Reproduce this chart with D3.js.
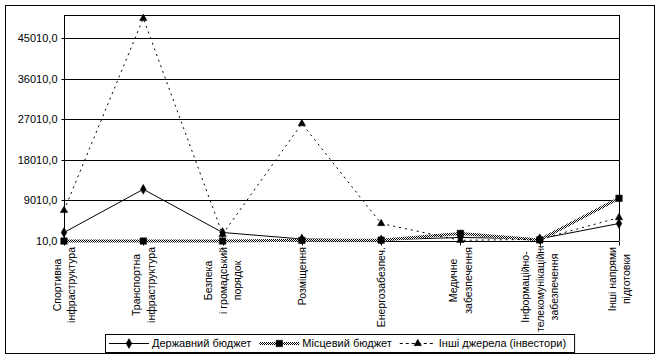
<!DOCTYPE html>
<html><head><meta charset="utf-8">
<script src="https://cdn.jsdelivr.net/npm/d3@7"></script>
<style>
html,body{margin:0;padding:0;background:#fff;}
svg{display:block;font-family:"Liberation Sans",Arial,sans-serif;}
</style></head>
<body>
<svg id="c" width="659" height="359"></svg>
<script>
const categories = ["Спортивна інфраструктура","Транспортна інфраструктура","Безпека і громадський порядок","Розміщення","Енергозабезпеч.","Медичне забезпечення","Інформаційно-телекомунікаційне забезпечення","Інші напрями підготовки"];
const labelLines = [["Спортивна","інфраструктура"],["Транспортна","інфраструктура"],["Безпека","і громадський","порядок"],["Розміщення"],["Енергозабезпеч."],["Медичне","забезпечення"],["Інформаційно-","телекомунікаційне","забезпечення"],["Інші напрями","підготовки"]];
const seriesNames = ["Державний бюджет","Місцевий бюджет","Інші джерела (інвестори)"];
const stateBudget = [1900, 11500, 1900, 450, 250, 800, 500, 3900];
const localBudget = [0, 0, 0, 150, 200, 1700, 250, 9500];
const otherSources = [6800, 49500, 1500, 26100, 3900, 150, 400, 5200];
const yTicks = [10, 9010, 18010, 27010, 36010, 45010];
const yMin = 10, yMax = 50230;

const svg = d3.select("#c");
const L = 64, R = 619, T = 15, B = 241;

const defs = svg.append("defs");
const pat = defs.append("pattern").attr("id","hatch").attr("patternUnits","userSpaceOnUse").attr("width",2).attr("height",2);
pat.append("rect").attr("width",2).attr("height",2).attr("fill","#fff");
pat.append("rect").attr("x",0).attr("y",0).attr("width",1).attr("height",1).attr("fill","#000");
pat.append("rect").attr("x",1).attr("y",1).attr("width",1).attr("height",1).attr("fill","#000");
defs.append("clipPath").attr("id","lblclip").append("rect").attr("x",0).attr("y",246).attr("width",659).attr("height",90);

svg.append("rect").attr("x",5.5).attr("y",5.5).attr("width",649).attr("height",348).attr("fill","none").attr("stroke","#000");

const x = d3.scalePoint().domain(categories).range([L, R]).padding(0);
const y = d3.scaleLinear().domain([yMin, yMax]).range([B, T]);

svg.append("g").selectAll("line").data(yTicks.slice(1)).join("line")
  .attr("x1",L).attr("x2",R).attr("y1",d=>Math.round(y(d))+0.5).attr("y2",d=>Math.round(y(d))+0.5)
  .attr("stroke","#000");
svg.append("line").attr("x1",L).attr("x2",R+0.5).attr("y1",T+0.5).attr("y2",T+0.5).attr("stroke","#000");
svg.append("line").attr("x1",R+0.5).attr("x2",R+0.5).attr("y1",T).attr("y2",B).attr("stroke","#000");

const yAxis = d3.axisLeft(y).tickValues(yTicks).tickSize(3).tickPadding(4)
  .tickFormat(d => d3.format(".1f")(d).replace(".", ","));
const ya = svg.append("g").attr("transform",`translate(${L+0.5},0)`).call(yAxis);
ya.select(".domain").attr("stroke","#000").attr("d",`M0,${T}V${B}`);
ya.selectAll(".tick").attr("transform",d=>`translate(0,${Math.round(y(d))+0.5})`);
ya.selectAll("text").attr("font-size",11).attr("fill","#000").attr("font-family","Liberation Sans, Arial, sans-serif").attr("dy","0.35em");

const xAxis = d3.axisBottom(x).tickSize(4).tickFormat("");
const xa = svg.append("g").attr("transform",`translate(0,${Math.round(y(yMin))+0.5})`).call(xAxis);
xa.select(".domain").attr("d",`M${L},0H${R}`).attr("stroke","#000");
xa.selectAll(".tick").attr("transform",d=>`translate(${Math.round(x(d))+0.5},0)`);

const lblG = svg.append("g").attr("clip-path","url(#lblclip)");
categories.forEach((c,i)=>{
  const lines = labelLines[i];
  const cx = x(c);
  const g = lblG.append("g");
  const texts = lines.map((ln,j)=> g.append("text").text(ln).attr("font-size",10.5).attr("fill","#000").attr("text-anchor","middle"));
  const w = d3.max(texts, t=>t.node().getComputedTextLength());
  let bottom = Math.min(247 + w, 332);
  const center = bottom - w/2;
  const n = lines.length, lh = 14.5;
  texts.forEach((t,j)=>{
    const lx = cx + (j - (n-1)/2)*lh + 4;
    t.attr("transform",`translate(${lx},${center}) rotate(-90)`);
  });
});

const series = [
  {name:seriesNames[0], values:stateBudget, stroke:"#000", width:1, dash:null, marker:"diamond"},
  {name:seriesNames[1], values:localBudget, stroke:"url(#hatch)", width:3, dash:null, marker:"square"},
  {name:seriesNames[2], values:otherSources, stroke:"#000", width:1, dash:"2,4", marker:"triangle"}
];
const line = d3.line().x((d,i)=>x(categories[i])).y(d=>y(d));
const symMap = {diamond:d3.symbolDiamond, square:d3.symbolSquare, triangle:d3.symbolTriangle};
const symSize = {diamond:28, square:42, triangle:24};
function drawMarker(g, type, px, py){
  g.append("path").attr("d", d3.symbol().type(symMap[type]).size(symSize[type])())
    .attr("transform",`translate(${px},${py})`).attr("fill","#000").attr("stroke","#000").attr("stroke-width",0.5);
}
const lg = svg.append("g");
series.forEach(s=>{
  lg.append("path").datum(s.values).attr("d",line).attr("fill","none")
    .attr("stroke",s.stroke).attr("stroke-width",s.width).attr("stroke-dasharray",s.dash);
});
series.forEach(s=>{
  s.values.forEach((v,i)=> drawMarker(lg, s.marker, x(categories[i]), y(v)));
});

const leg = svg.append("g");
const lx0 = 105, ly0 = 334, lh0 = 18;
const box = leg.append("rect").attr("x",lx0+0.5).attr("y",ly0+0.5).attr("height",lh0).attr("fill","#fff").attr("stroke","#000");
let cur = lx0 + 4;
const cy = ly0 + lh0/2 + 0.5;
series.forEach((s,i)=>{
  const sw = i===2 ? 36 : 40;
  leg.append("line").attr("x1",cur).attr("x2",cur+sw).attr("y1",cy).attr("y2",cy)
    .attr("stroke",s.stroke).attr("stroke-width",s.width).attr("stroke-dasharray",i===2?"3,3":null);
  drawMarker(leg, s.marker, cur+sw/2, cy);
  const t = leg.append("text").text(s.name).attr("x",cur+sw+3).attr("y",cy).attr("dy","0.36em")
    .attr("font-size",11).attr("fill","#000");
  cur += sw + 3 + t.node().getComputedTextLength() + 8;
});
box.attr("width", cur - lx0);
</script>
</body></html>
